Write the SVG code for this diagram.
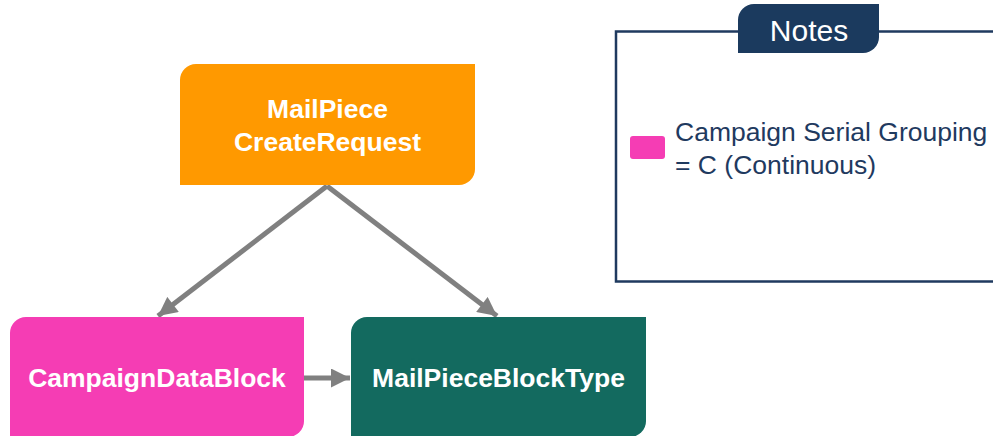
<svg xmlns="http://www.w3.org/2000/svg" width="993" height="436" viewBox="0 0 993 436">
  <defs>
    <style>
      .node-label { font-family: "Liberation Sans", Arial, sans-serif; font-weight: bold; font-size: 26.5px; fill: #ffffff; text-anchor: middle; }
      .note-text { font-family: "Liberation Sans", Arial, sans-serif; font-size: 26.5px; fill: #1F3A5F; }
      .tab-text { font-family: "Liberation Sans", Arial, sans-serif; font-size: 30px; fill: #ffffff; text-anchor: middle; }
      .connector { stroke: #808080; stroke-width: 5; fill: none; marker-end: url(#arrow); }
    </style>
    <marker id="arrow" viewBox="0 0 10 10" refX="10" refY="5" markerWidth="4" markerHeight="3.8" markerUnits="strokeWidth" orient="auto">
      <path d="M0,0 L10,5 L0,10 Z" fill="#808080"/>
    </marker>
  </defs>

  <rect width="993" height="436" fill="#ffffff"/>

  <!-- notes panel -->
  <g id="notes">
    <rect x="616" y="31.5" width="400" height="250" fill="none" stroke="#1F3A5F" stroke-width="2.5"/>
    <path d="M754,4 H879 V37 A16,16 0 0 1 863,53 H738 V20 A16,16 0 0 1 754,4 Z" fill="#1B3A5E"/>
    <text class="tab-text" x="809" y="41">Notes</text>
    <rect x="630" y="136" width="35" height="23" rx="3" fill="#F53DB4"/>
    <text class="note-text" x="675" y="140.5">Campaign Serial Grouping</text>
    <text class="note-text" x="675" y="173.5">= C (Continuous)</text>
  </g>

  <!-- connectors -->
  <g id="connectors">
    <line class="connector" x1="327" y1="186" x2="158" y2="316"/>
    <line class="connector" x1="327" y1="186" x2="497" y2="316"/>
    <line class="connector" x1="304" y1="378" x2="350" y2="378"/>
  </g>

  <!-- nodes -->
  <g id="node-createrequest">
    <path d="M196,64 H475 V169 A16,16 0 0 1 459,185 H180 V80 A16,16 0 0 1 196,64 Z" fill="#FF9900"/>
    <text class="node-label" x="327.5" y="118">MailPiece</text>
    <text class="node-label" x="327.5" y="150.5">CreateRequest</text>
  </g>

  <g id="node-campaigndatablock">
    <path d="M26,317 H304 V421 A16,16 0 0 1 288,437 H10 V333 A16,16 0 0 1 26,317 Z" fill="#F53DB4"/>
    <text class="node-label" x="157" y="387">CampaignDataBlock</text>
  </g>

  <g id="node-mailpieceblocktype">
    <path d="M367,317 H646 V421 A16,16 0 0 1 630,437 H351 V333 A16,16 0 0 1 367,317 Z" fill="#136A5F"/>
    <text class="node-label" x="498.5" y="387">MailPieceBlockType</text>
  </g>
</svg>
